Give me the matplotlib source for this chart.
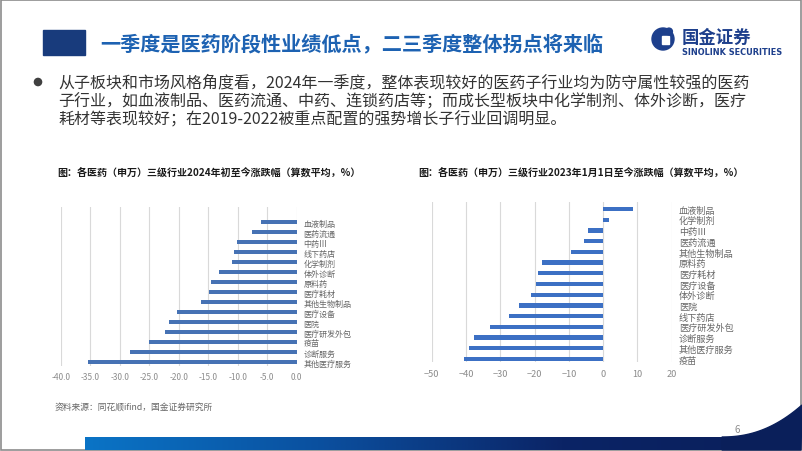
import matplotlib
matplotlib.use("Agg")
import matplotlib.pyplot as plt
import numpy as np
from matplotlib.patches import Rectangle, Circle, Polygon
from matplotlib.colors import LinearSegmentedColormap

plt.rcParams['font.family'] = ['Noto Sans CJK SC', 'DejaVu Sans']

# left chart: 2024 YTD change (%)
cats_2024 = ["血液制品", "医药流通", "中药Ⅲ", "线下药店", "化学制剂", "体外诊断", "原料药",
             "医疗耗材", "其他生物制品", "医疗设备", "医院", "医疗研发外包", "疫苗",
             "诊断服务", "其他医疗服务"]
vals_2024 = [-6.1, -7.6, -10.1, -10.7, -10.9, -13.1, -14.5, -14.8, -16.2, -20.3,
             -21.6, -22.4, -25.1, -28.3, -35.3]
ticks_2024 = [-40, -35, -30, -25, -20, -15, -10, -5, 0]

# right chart: change since 2023-01-01 (%)
cats_2023 = ["血液制品", "化学制剂", "中药Ⅲ", "医药流通", "其他生物制品", "原料药", "医疗耗材",
             "医疗设备", "体外诊断", "医院", "线下药店", "医疗研发外包", "诊断服务",
             "其他医疗服务", "疫苗"]
vals_2023 = [8.8, 1.6, -4.4, -5.5, -9.5, -17.7, -18.9, -19.5, -20.9, -24.4,
             -27.5, -33.1, -37.6, -39.1, -40.6]
ticks_2023 = [-50, -40, -30, -20, -10, 0, 10, 20]

W, H = 802, 452
fig = plt.figure(figsize=(W / 100, H / 100), dpi=100)
fig.patch.set_facecolor("white")

# background layer in pixel coordinates
bg = fig.add_axes([0, 0, 1, 1])
bg.set_xlim(0, W)
bg.set_ylim(H, 0)
bg.axis("off")

# slide border
bg.add_patch(Rectangle((0.5, 0.5), W - 1.5, H - 1.5, fill=False, ec="#8c8c8c", lw=1.2))

# header
bg.add_patch(Rectangle((43, 31), 42, 25, color="#183b7c"))
bg.text(100, 44, "一季度是医药阶段性业绩低点，二三季度整体拐点将来临", fontsize=14.5,
        fontweight="bold", color="#1d62b2", va="center", ha="left")

# logo
bg.add_patch(Circle((663, 40), 11, color="#1d3f8c"))
bg.add_patch(Rectangle((662, 37), 7, 8, color="white"))
bg.add_patch(Circle((669, 32.5), 3.4, color="#1d3f8c"))
bg.text(682, 37.5, "国金证券", fontsize=12.5, fontweight="bold", color="#1d3f8c", va="center")
bg.text(682, 52.5, "SINOLINK SECURITIES", fontsize=5.9, fontweight="bold", color="#1d3f8c",
        va="center", family=["DejaVu Sans"])

# bullet text
bg.add_patch(Circle((38, 83), 3.6, color="#404040"))
lines = ["从子板块和市场风格角度看，2024年一季度，整体表现较好的医药子行业均为防守属性较强的医药",
         "子行业，如血液制品、医药流通、中药、连锁药店等；而成长型板块中化学制剂、体外诊断，医疗",
         "耗材等表现较好；在2019-2022被重点配置的强势增长子行业回调明显。"]
for i, s in enumerate(lines):
    bg.text(58, 83 + i * 18.5, s, fontsize=11.5, color="#333333", va="center", ha="left")

# chart titles
bg.text(57, 173, "图：各医药（申万）三级行业2024年初至今涨跌幅（算数平均，%）", fontsize=7.2,
        fontweight="bold", color="#1a1a1a", va="center")
bg.text(418, 173, "图：各医药（申万）三级行业2023年1月1日至今涨跌幅（算数平均，%）", fontsize=7.2,
        fontweight="bold", color="#1a1a1a", va="center")

# footer
bg.text(55, 408, "资料来源：同花顺ifind，国金证券研究所", fontsize=6.3, color="#666666", va="center")
grad = np.linspace(0, 1, 256).reshape(1, -1)
cm = LinearSegmentedColormap.from_list("bar", ["#0a74c6", "#0b4f9e", "#0b2466", "#0a1f5a"])
bg.imshow(grad, cmap=cm, extent=(85, W - 1, H - 1, 438), aspect="auto", zorder=1)
t = np.linspace(0, 1, 40)
cx = 722 + 80 * t
cy = 438 - 32 * t ** 2.2
poly = list(zip(cx, cy)) + [(W - 1, H - 1), (722, H - 1)]
bg.add_patch(Polygon(poly, closed=True, color="#0a1f5a", zorder=2))
bg.text(737, 430, "6", fontsize=7, color="#8c8c8c", va="center", ha="center", zorder=3)
bg.set_xlim(0, W)
bg.set_ylim(H, 0)


def px_axes(x0, x1, ytop, ybot):
    return fig.add_axes([x0 / W, 1 - ybot / H, (x1 - x0) / W, (ybot - ytop) / H])


def draw(ax, cats, vals, ticks, color, labels, lab_size, tick_size, pad):
    y = np.arange(len(cats))
    ax.barh(y, vals, height=0.4, color=color, zorder=3)
    ax.set_xlim(ticks[0], ticks[-1])
    ax.set_xticks(ticks)
    ax.set_xticklabels(labels)
    ax.set_yticks(y)
    ax.set_yticklabels(cats)
    ax.yaxis.tick_right()
    ax.tick_params(axis="y", length=0, pad=5, labelsize=lab_size, labelcolor="#666666")
    ax.tick_params(axis="x", length=0, pad=pad, labelsize=tick_size, labelcolor="#8c8c8c")
    ax.grid(axis="x", color="#d9d9d9", lw=0.8)
    ax.set_axisbelow(True)
    for s in ax.spines.values():
        s.set_visible(False)
    ax.patch.set_alpha(0)


ax1 = px_axes(60.7, 296.7, 208, 367)
draw(ax1, cats_2024, vals_2024, ticks_2024, "#4672b4",
     [f"{v:.1f}" for v in ticks_2024], 5.8, 6, 4)
ax1.set_ylim(14.4, -1.5)

ax2 = px_axes(431.7, 671.7, 203, 363)
draw(ax2, cats_2023, vals_2023, ticks_2023, "#3c70c4",
     [str(v).replace("-", "\u2212") for v in ticks_2023], 6.6, 6.6, 5)
ax2.set_ylim(14.28, -0.65)

fig.savefig("out.png", dpi=100, facecolor="white")
